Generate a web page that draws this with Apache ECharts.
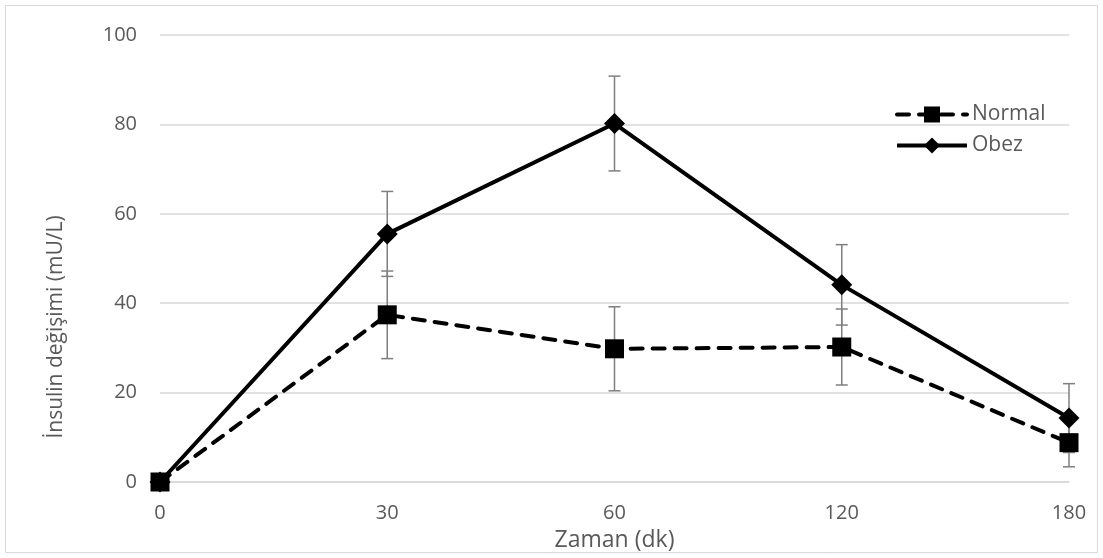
<!DOCTYPE html>
<html lang="tr">
<head>
<meta charset="UTF-8">
<title>İnsulin</title>
<script src="https://cdn.jsdelivr.net/npm/echarts@6/dist/echarts.min.js"></script>
<style>
  html, body { margin: 0; padding: 0; background: #fff; }
  #main { width: 1103px; height: 558px; }
</style>
</head>
<body>
<div id="main"></div>
<script>
// veri
var times = ['0', '30', '60', '120', '180'];
var normalVals = [0, 37.4, 29.8, 30.2, 8.8];
var normalErr = [0, 9.8, 9.4, 8.5, 5.4];
var obezVals = [0, 55.5, 80.2, 44.1, 14.3];
var obezErr = [0, 9.5, 10.6, 9.0, 7.7];
var yTicks = [0, 20, 40, 60, 80, 100];
var yTitle = 'İnsulin değişimi (mU/L)';

var chart = echarts.init(document.getElementById('main'));
var fontFam = '"Open Sans", "Liberation Sans", sans-serif';

function errData(vals, errs) {
  return vals.map(function (v, i) { return [i, v - errs[i], v + errs[i]]; });
}

// hata çubukları
function errRender(params, api) {
  var lo = api.coord([api.value(0), api.value(1)]);
  var hi = api.coord([api.value(0), api.value(2)]);
  var w = 6;
  var st = { stroke: '#7f7f7f', lineWidth: 1.5 };
  return {
    type: 'group',
    children: [
      { type: 'line', shape: { x1: lo[0], y1: lo[1], x2: hi[0], y2: hi[1] }, style: st },
      { type: 'line', shape: { x1: lo[0] - w, y1: lo[1], x2: lo[0] + w, y2: lo[1] }, style: st },
      { type: 'line', shape: { x1: hi[0] - w, y1: hi[1], x2: hi[0] + w, y2: hi[1] }, style: st }
    ]
  };
}

var option = {
  animation: false,
  backgroundColor: '#fff',
  graphic: [
    {
      type: 'rect',
      shape: { x: 5.5, y: 5.5, width: 1092, height: 547 },
      style: { fill: 'none', stroke: '#d9d9d9', lineWidth: 1 }
    },
    {
      // y ekseni başlığı (orijinalde biraz aşağıda)
      type: 'text',
      x: 56,
      y: 327,
      rotation: Math.PI / 2,
      style: {
        text: yTitle,
        fill: '#595959',
        font: '21px ' + fontFam,
        textAlign: 'center',
        textVerticalAlign: 'middle'
      }
    }
  ],
  grid: { left: 160, right: 34, top: 35, bottom: 76 },
  legend: {
    data: ['Normal', 'Obez'],
    orient: 'vertical',
    left: 890,
    top: 99,
    itemWidth: 70,
    itemHeight: 20,
    itemGap: 10,
    lineStyle: { width: 4 },
    textStyle: { color: '#595959', fontSize: 21, fontFamily: fontFam }
  },
  xAxis: {
    type: 'category',
    data: times,
    boundaryGap: false,
    name: 'Zaman (dk)',
    nameLocation: 'middle',
    nameGap: 47,
    nameTextStyle: { color: '#595959', fontSize: 23, fontFamily: fontFam },
    axisLine: { lineStyle: { color: '#d9d9d9', width: 1.5 } },
    axisTick: { show: false },
    axisLabel: { color: '#595959', fontSize: 20, fontFamily: fontFam, margin: 21 }
  },
  yAxis: {
    type: 'value',
    min: yTicks[0],
    max: yTicks[yTicks.length - 1],
    interval: 20,
    axisLine: { show: false },
    axisTick: { show: false },
    splitLine: { lineStyle: { color: '#d9d9d9', width: 1.5 } },
    axisLabel: { color: '#595959', fontSize: 20, fontFamily: fontFam, margin: 23 }
  },
  series: [
    {
      name: 'NormalErr',
      type: 'custom',
      renderItem: errRender,
      data: errData(normalVals, normalErr),
      z: 1,
      silent: true
    },
    {
      name: 'ObezErr',
      type: 'custom',
      renderItem: errRender,
      data: errData(obezVals, obezErr),
      z: 1,
      silent: true
    },
    {
      name: 'Normal',
      type: 'line',
      data: normalVals,
      symbol: 'rect',
      symbolSize: 19,
      z: 3,
      itemStyle: { color: '#000' },
      lineStyle: { color: '#000', width: 4, type: [12, 10], cap: 'round' }
    },
    {
      name: 'Obez',
      type: 'line',
      data: obezVals,
      symbol: 'diamond',
      symbolSize: 21,
      z: 4,
      itemStyle: { color: '#000' },
      lineStyle: { color: '#000', width: 4 }
    }
  ]
};

chart.setOption(option);
</script>
</body>
</html>
